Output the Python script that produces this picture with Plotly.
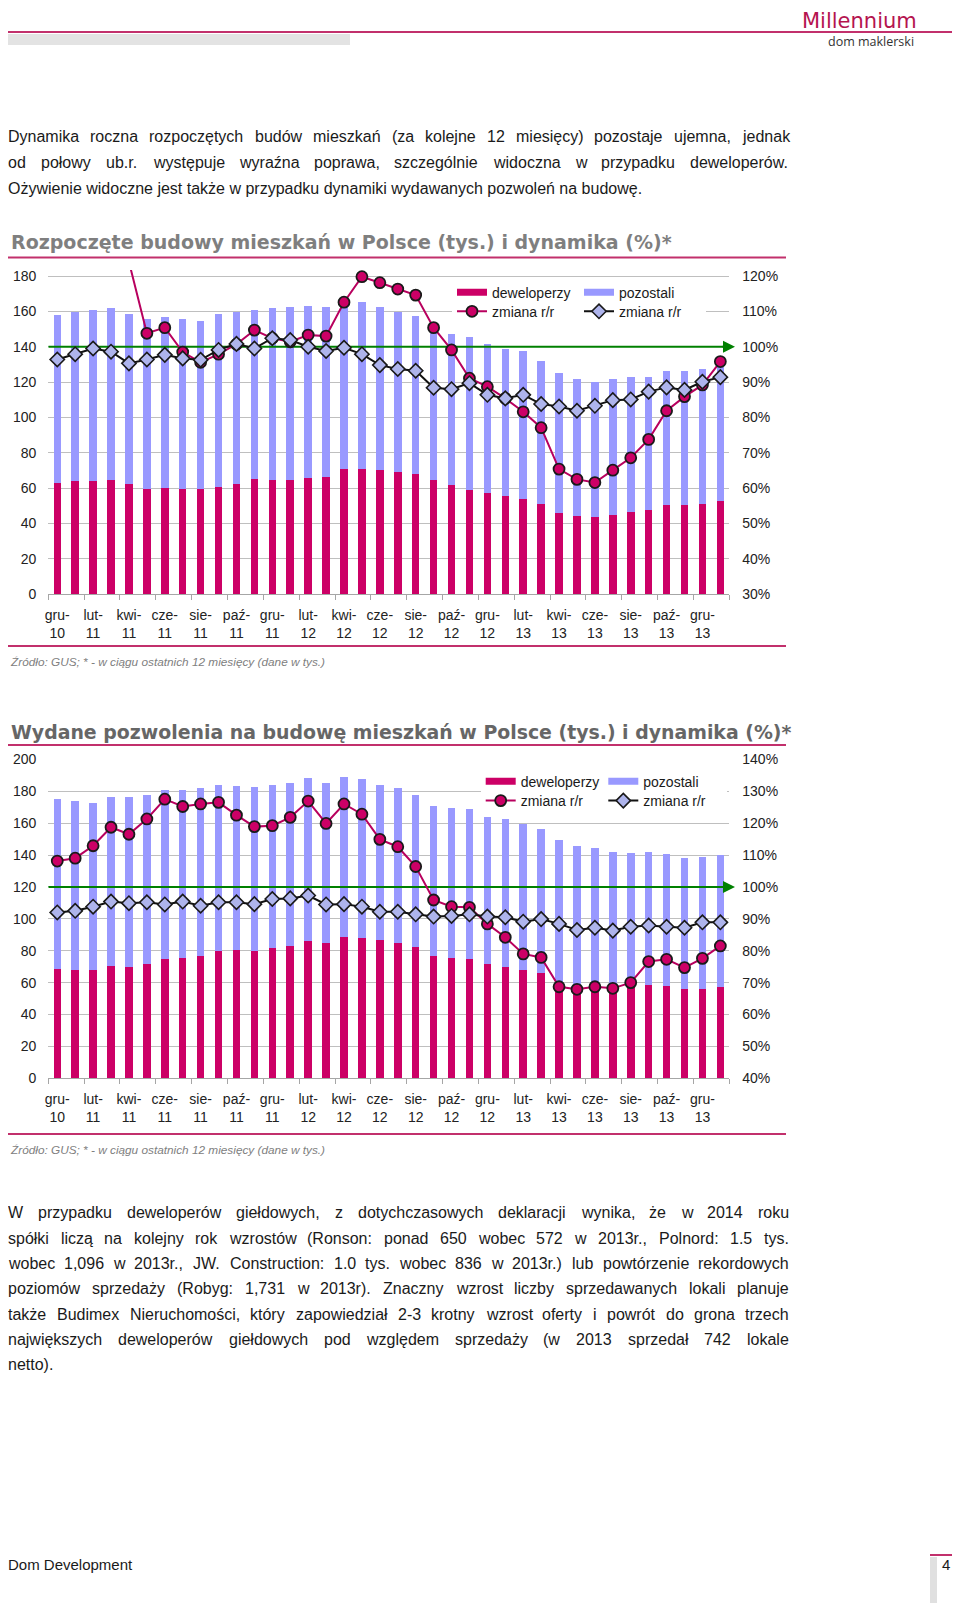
import plotly.graph_objects as go
import numpy as np

# page is 960x1611; the browser body keeps an 8px margin, so the figure is drawn 8px smaller on each side
PAGE_W, PAGE_H = 960, 1611
OFF = 8
W, H = PAGE_W - 2 * OFF, PAGE_H - 2 * OFF

# ---------------- data ----------------
months = ["gru-10", "sty-11", "lut-11", "mar-11", "kwi-11", "maj-11", "cze-11", "lip-11", "sie-11", "wrz-11",
          "paź-11", "lis-11", "gru-11", "sty-12", "lut-12", "mar-12", "kwi-12", "maj-12", "cze-12", "lip-12",
          "sie-12", "wrz-12", "paź-12", "lis-12", "gru-12", "sty-13", "lut-13", "mar-13", "kwi-13", "maj-13",
          "cze-13", "lip-13", "sie-13", "wrz-13", "paź-13", "lis-13", "gru-13", "sty-14"]

# Rozpoczęte budowy (tys.)
starts_dev = [62.8, 64.1, 64.1, 64.6, 62.6, 59.4, 59.9, 59.4, 59.4, 60.9, 62.4, 65.0, 64.6, 64.6, 66.0, 66.3,
              70.7, 70.9, 70.5, 69.2, 68.0, 64.6, 61.8, 59.0, 57.1, 55.6, 54.1, 51.1, 46.2, 44.3, 43.5, 44.9,
              46.7, 47.5, 50.5, 50.5, 51.1, 53.0]
starts_oth = [95.1, 95.7, 96.5, 97.1, 95.7, 96.3, 97.1, 96.1, 95.3, 97.6, 97.4, 95.8, 97.5, 98.1, 97.0, 96.0,
              92.9, 94.6, 92.2, 90.3, 89.2, 84.4, 85.4, 86.3, 84.4, 83.3, 83.5, 80.6, 79.1, 77.3, 76.4, 76.7,
              76.0, 75.2, 75.6, 75.8, 76.3, 75.7]
starts_dev_yoy = [135.0, 140.0, 142.0, 132.0, 124.0, 103.8, 105.4, 98.5, 95.6, 97.9, 100.7, 104.7, 102.4, 101.4,
                  103.3, 103.0, 112.6, 119.8, 118.1, 116.3, 114.6, 105.4, 99.1, 91.1, 88.7, 85.4, 81.6, 77.1,
                  65.4, 62.5, 61.6, 65.1, 68.6, 73.8, 81.9, 85.9, 89.2, 95.8]
starts_oth_yoy = [96.4, 97.9, 99.5, 98.6, 95.3, 96.4, 97.7, 96.7, 96.3, 99.1, 100.8, 99.5, 102.4, 101.9, 100.0,
                  98.8, 99.7, 97.9, 94.8, 93.7, 93.2, 88.4, 88.0, 89.7, 86.4, 85.4, 86.4, 83.8, 83.1, 81.9,
                  83.3, 84.9, 85.1, 87.3, 88.5, 87.8, 90.1, 91.4]

# Wydane pozwolenia (tys.)
permits_dev = [68.3, 67.9, 67.7, 70.4, 70.0, 71.5, 75.0, 75.7, 76.9, 79.6, 80.3, 80.0, 81.9, 83.0, 85.9, 84.6,
               88.6, 87.8, 86.7, 84.6, 82.1, 76.5, 75.2, 74.6, 71.7, 70.0, 67.9, 65.8, 57.5, 57.5, 57.9, 57.9,
               58.5, 58.5, 57.9, 55.8, 55.8, 57.1]
permits_oth = [106.6, 106.0, 105.1, 106.2, 106.2, 106.1, 105.8, 104.9, 104.9, 104.3, 103.2, 102.4, 102.2, 102.0,
               102.4, 100.4, 100.1, 99.9, 97.4, 97.6, 95.5, 94.2, 94.1, 94.1, 93.0, 92.4, 91.4, 90.5, 91.9,
               88.4, 86.7, 84.2, 82.6, 83.2, 82.5, 82.1, 82.8, 82.7]
permits_dev_yoy = [108.1, 109.0, 112.9, 118.7, 116.5, 121.3, 127.5, 125.2, 126.0, 126.5, 122.5, 118.9, 119.2,
                   121.8, 126.9, 119.9, 126.0, 122.8, 114.9, 112.6, 106.4, 95.9, 93.8, 93.6, 88.4, 84.2, 79.0,
                   77.9, 68.7, 67.9, 68.7, 68.2, 70.0, 76.6, 77.3, 74.7, 77.6, 81.5]
permits_oth_yoy = [92.0, 92.5, 93.8, 95.4, 94.9, 95.2, 94.5, 95.4, 94.1, 95.2, 95.2, 94.6, 96.2, 96.4, 97.3,
                   94.5, 94.6, 93.8, 92.2, 92.2, 91.4, 90.7, 90.9, 91.4, 90.7, 90.5, 89.1, 89.9, 88.4, 86.5,
                   87.2, 86.3, 87.5, 87.9, 87.5, 87.2, 88.9, 88.9]

ref_level = 100  # 100% reference line

series_names = ["deweloperzy", "pozostali", "zmiana r/r", "zmiana r/r"]

title_top = "Rozpoczęte budowy mieszkań w Polsce (tys.) i dynamika (%)*"
title_bot = "Wydane pozwolenia na budowę mieszkań w Polsce (tys.) i dynamika (%)*"
source_txt = "Źródło: GUS; * - w ciągu ostatnich 12 miesięcy (dane w tys.)"

para1 = ["Dynamika roczna rozpoczętych budów mieszkań (za kolejne 12 miesięcy) pozostaje ujemna, jednak",
         "od połowy ub.r. występuje wyraźna poprawa, szczególnie widoczna w przypadku deweloperów.",
         "Ożywienie widoczne jest także w przypadku dynamiki wydawanych pozwoleń na budowę."]
para2 = ["W przypadku deweloperów giełdowych, z dotychczasowych deklaracji wynika, że w 2014 roku",
         "spółki liczą na kolejny rok wzrostów (Ronson: ponad 650 wobec 572 w 2013r., Polnord: 1.5 tys.",
         "wobec 1,096 w 2013r., JW. Construction: 1.0 tys. wobec 836 w 2013r.) lub powtórzenie rekordowych",
         "poziomów sprzedaży (Robyg: 1,731 w 2013r). Znaczny wzrost liczby sprzedawanych lokali planuje",
         "także Budimex Nieruchomości, który zapowiedział 2-3 krotny wzrost oferty i powrót do grona trzech",
         "największych deweloperów giełdowych pod względem sprzedaży (w 2013 sprzedał 742 lokale",
         "netto)."]

# ---------------- style ----------------
DEV = "#CC0066"
OTH = "#9999FF"
PINKLINE = "#B8005E"
DIA_FILL = "#AEB4EC"
GREEN = "#008000"
GRID = "#BFBFBF"
AXIS = "#A6A6A6"
BRAND = "#C2306C"
TXT = "#1a1a1a"
SANS = "Liberation Sans, Arial, sans-serif"
TF = dict(family=SANS, size=14, color="#222222")

# page-pixel layout of the two charts
PL, PR = 48.3, 729.3
TOP_T, TOP_B, TOP_180 = 270.0, 594.3, 276.0
BOT_T, BOT_B = 759.3, 1078.3

x = np.arange(len(months))
XR = [-0.5, len(months) - 0.5]
tickvals = list(x[::2])
ticktext = [months[i].replace("-", "-<br>") for i in tickvals]
minor_ticks = list(np.arange(XR[0], XR[1] + 0.01, 2))

ytop_top = 180 * (TOP_B - TOP_T) / (TOP_B - TOP_180)


def pxp(p):
    return (p - OFF) / W


def pyp(p):
    return 1 - (p - OFF) / H


fig = go.Figure()


def add_chart(xr, yr, yr2, dev, oth, dyoy, oyoy, lg_row1, lg_row2):
    fig.add_trace(go.Bar(x=x, y=dev, marker=dict(color=DEV, line=dict(width=0)), width=0.42,
                         xaxis=xr, yaxis=yr, showlegend=False, hoverinfo='skip'))
    fig.add_trace(go.Bar(x=x, y=oth, marker=dict(color=OTH, line=dict(width=0)), width=0.42,
                         xaxis=xr, yaxis=yr, showlegend=False, hoverinfo='skip'))
    fig.add_trace(go.Scatter(x=XR, y=[ref_level, ref_level], mode='lines', line=dict(color=GREEN, width=2),
                             xaxis=xr, yaxis=yr2, showlegend=False, hoverinfo='skip'))
    fig.add_trace(go.Scatter(x=x, y=dyoy, mode='lines+markers', name=series_names[2], legend=lg_row2,
                             line=dict(color=PINKLINE, width=2),
                             marker=dict(symbol='circle', size=11, color=DEV, line=dict(color='#1a1a1a', width=1.8)),
                             xaxis=xr, yaxis=yr2))
    fig.add_trace(go.Scatter(x=x, y=oyoy, mode='lines+markers', name=series_names[3], legend=lg_row2,
                             line=dict(color='#111111', width=2),
                             marker=dict(symbol='diamond', size=11, color=DIA_FILL, line=dict(color='#1a1a1a', width=1.6)),
                             xaxis=xr, yaxis=yr2))
    # legend keys for bars
    fig.add_trace(go.Scatter(x=[None], y=[None], mode='lines', line=dict(color=DEV, width=7),
                             name=series_names[0], legend=lg_row1, xaxis=xr, yaxis=yr))
    fig.add_trace(go.Scatter(x=[None], y=[None], mode='lines', line=dict(color=OTH, width=7),
                             name=series_names[1], legend=lg_row1, xaxis=xr, yaxis=yr))
    fig.add_annotation(xref=xr + ' domain', yref=yr2, x=(735 - PL) / (PR - PL), y=ref_level,
                       ax=-14, ay=0, axref='pixel', ayref='pixel', showarrow=True, arrowhead=2,
                       arrowsize=1.2, arrowwidth=2, arrowcolor=GREEN, text="")


add_chart('x', 'y', 'y2', starts_dev, starts_oth, starts_dev_yoy, starts_oth_yoy, 'legend2', 'legend')
add_chart('x2', 'y3', 'y4', permits_dev, permits_oth, permits_dev_yoy, permits_oth_yoy, 'legend4', 'legend3')

xaxis_common = dict(domain=[pxp(PL), pxp(PR)], range=XR, tickmode='array', tickvals=tickvals, ticktext=ticktext,
                    ticks='', showline=True, linecolor=AXIS, linewidth=1, showgrid=False, zeroline=False,
                    tickfont=TF, ticklabelstandoff=8, automargin=False,
                    minor=dict(tickmode='array', tickvals=minor_ticks, ticks='outside', ticklen=5,
                               tickcolor=AXIS, tickwidth=1, showgrid=False))
yleft_common = dict(showgrid=True, gridcolor=GRID, gridwidth=1, zeroline=False, tickfont=TF, automargin=False,
                    ticklabelstandoff=11, showline=False, ticks='', tickmode='array')
yright_common = dict(showgrid=False, zeroline=False, tickfont=TF, ticklabelstandoff=12, automargin=False,
                     side='right', showline=False, ticks='', tickmode='array')

top_pct = list(range(30, 121, 10))
bot_pct = list(range(40, 141, 10))
fig.update_layout(
    xaxis=dict(anchor='y', **xaxis_common),
    yaxis=dict(anchor='x', domain=[pyp(TOP_B), pyp(TOP_T)], range=[0, ytop_top],
               tickvals=list(range(0, 181, 20)), **yleft_common),
    yaxis2=dict(anchor='x', overlaying='y', range=[30, 30 + ytop_top / 2],
                tickvals=top_pct, ticktext=[f"{v}%" for v in top_pct], **yright_common),
    xaxis2=dict(anchor='y3', **xaxis_common),
    yaxis3=dict(anchor='x2', domain=[pyp(BOT_B), pyp(BOT_T)], range=[0, 200],
                tickvals=list(range(0, 201, 20)), **yleft_common),
    yaxis4=dict(anchor='x2', overlaying='y3', range=[40, 140],
                tickvals=bot_pct, ticktext=[f"{v}%" for v in bot_pct], **yright_common),
)

leg_common = dict(orientation='h', xanchor='left', yanchor='middle', borderwidth=0,
                  font=dict(family=SANS, size=14, color=TXT), itemwidth=30, entrywidthmode='pixels',
                  traceorder='normal', tracegroupgap=0)
fig.update_layout(
    # second rows (white box hides the gridline), drawn first
    legend=dict(x=pxp(452), y=pyp(311.7), entrywidth=82, bgcolor='white', **leg_common),
    legend3=dict(x=pxp(480.7), y=pyp(801.0), entrywidth=77.6, bgcolor='white', **leg_common),
    # first rows
    legend2=dict(x=pxp(452), y=pyp(292.7), entrywidth=82, bgcolor='rgba(0,0,0,0)', **leg_common),
    legend4=dict(x=pxp(480.7), y=pyp(781.7), entrywidth=77.6, bgcolor='rgba(0,0,0,0)', **leg_common),
)

# ---------------- page decorations ----------------
shapes = []


def hline(x0, x1, y, color, width):
    shapes.append(dict(type='line', xref='paper', yref='paper', x0=pxp(x0), x1=pxp(x1), y0=pyp(y), y1=pyp(y),
                       line=dict(color=color, width=width), layer='above'))


def rect(x0, y0, x1, y1, color):
    shapes.append(dict(type='rect', xref='paper', yref='paper', x0=pxp(x0), x1=pxp(x1), y0=pyp(y1), y1=pyp(y0),
                       fillcolor=color, line=dict(width=0), layer='below'))


hline(8, 952, 32, BRAND, 2)
rect(8, 34, 350, 45, "#E3E3E3")
hline(8, 786, 257.5, BRAND, 2)
hline(8, 786, 646, BRAND, 2)
hline(8, 786, 745, BRAND, 2)
hline(8, 786, 1134, BRAND, 2)
hline(930, 952, 1555, BRAND, 2)
rect(930, 1557, 937, 1603, "#E0E0E0")
fig.update_layout(shapes=shapes)


def note(txt, xp, yp, size, color=TXT, family=SANS, anchor='left'):
    fig.add_annotation(xref='paper', yref='paper', x=pxp(xp), y=pyp(yp), text=txt, showarrow=False,
                       xanchor=anchor, yanchor='middle', borderpad=0, borderwidth=0,
                       font=dict(family=family, size=size, color=color))


# logo
note("Millennium", 859, 20.6, 21, color="#B5144F", family="DejaVu Sans, sans-serif", anchor='center')
note("dom maklerski", 871, 41.8, 12.5, color="#333333", family="Open Sans, sans-serif", anchor='center')

# paragraphs (justified)
CW = {' ': 278, 'a': 556, 'b': 556, 'c': 500, 'd': 556, 'e': 556, 'f': 278, 'g': 556, 'h': 556, 'i': 222,
      'j': 222, 'k': 500, 'l': 222, 'm': 833, 'n': 556, 'o': 556, 'p': 556, 'q': 556, 'r': 333, 's': 500,
      't': 278, 'u': 556, 'v': 500, 'w': 722, 'x': 500, 'y': 500, 'z': 500, 'A': 667, 'B': 667, 'C': 722,
      'D': 722, 'E': 667, 'F': 611, 'G': 778, 'H': 722, 'I': 278, 'J': 500, 'K': 667, 'L': 556, 'M': 833,
      'N': 722, 'O': 778, 'P': 667, 'Q': 778, 'R': 722, 'S': 667, 'T': 611, 'U': 722, 'V': 667, 'W': 944,
      'X': 667, 'Y': 667, 'Z': 611, '.': 278, ',': 278, ':': 278, ';': 278, '-': 333, '(': 333, ')': 333,
      '/': 278, '%': 889, 'ą': 556, 'ę': 556, 'ó': 556, 'ś': 500, 'ć': 500, 'ń': 556, 'ź': 500, 'ż': 500,
      'ł': 222, 'Ż': 611, 'Ź': 611, 'Ś': 667, 'Ł': 556}
FS = 16
TL, TR = 8, 789


def tw(s, size):
    return sum(CW.get(c, 556) for c in s) / 1000.0 * size


def paragraph(lines, y0, step):
    for i, line in enumerate(lines):
        y = y0 + i * step
        words = line.split(' ')
        ww = [tw(w, FS) for w in words]
        natural = sum(ww) + tw(' ', FS) * (len(words) - 1)
        last = (i == len(lines) - 1)
        if last or natural >= (TR - TL):
            size = FS if natural <= (TR - TL) else FS * (TR - TL) / natural
            note(line, TL, y, size)
        else:
            gap = ((TR - TL) - sum(ww)) / (len(words) - 1)
            xx = TL
            for wd, wdt in zip(words, ww):
                note(wd, xx, y, FS)
                xx += wdt + gap


paragraph(para1, 136.7, 25.7)
paragraph(para2, 1212.8, 25.35)

# chart titles & sources
note("<b>" + title_top + "</b>", 11, 242, 19, color="#7F7F7F", family="DejaVu Sans, Verdana, sans-serif")
note("<b>" + title_bot + "</b>", 11, 731.5, 18.9, color="#666666", family="DejaVu Sans, Verdana, sans-serif")
note("<i>" + source_txt + "</i>", 10, 661.5, 11.8, color="#808080")
note("<i>" + source_txt + "</i>", 10, 1150, 11.8, color="#808080")

# footer
note("Dom Development", 8, 1564, 15)
note("4", 950, 1564, 15, anchor='right')

fig.update_layout(width=W, height=H, margin=dict(l=0, r=0, t=0, b=0, pad=0, autoexpand=False),
                  paper_bgcolor='white', plot_bgcolor='white', barmode='stack', showlegend=True,
                  hovermode=False)

fig.write_html("out.html")
